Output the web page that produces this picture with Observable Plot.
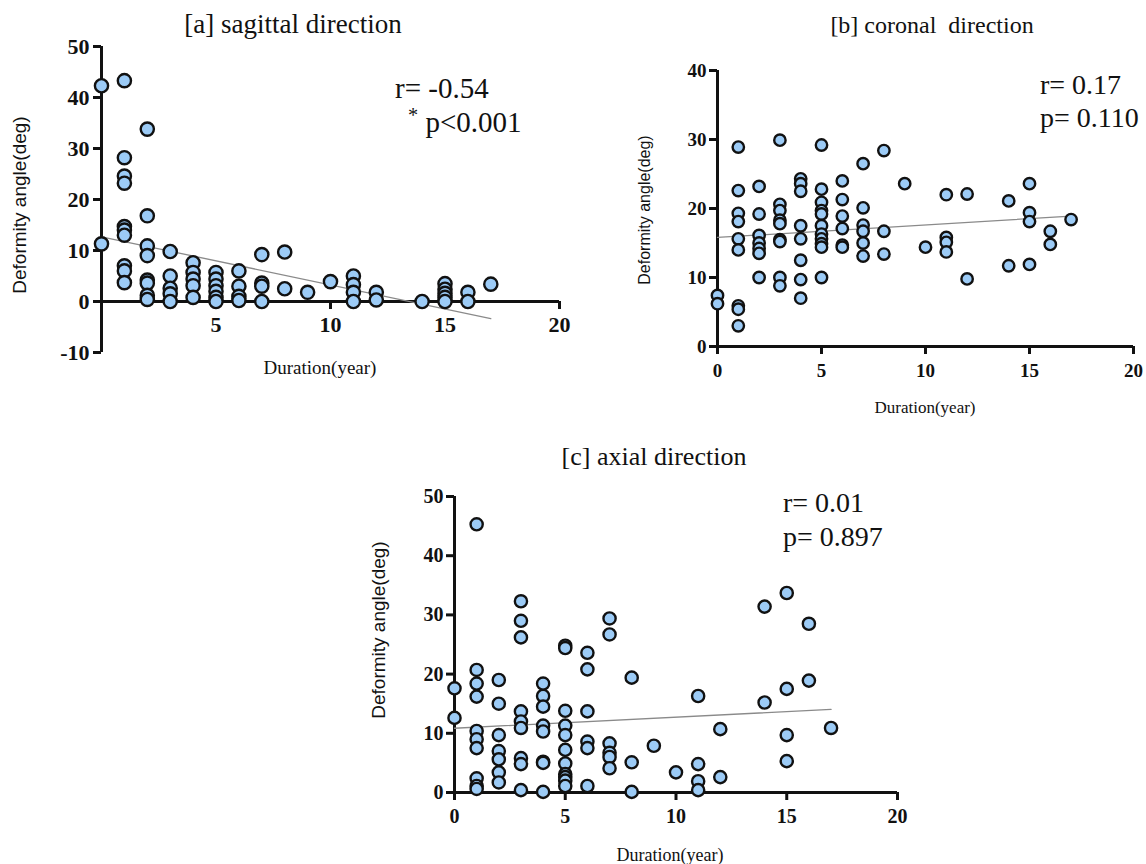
<!DOCTYPE html>
<html><head><meta charset="utf-8">
<script src="https://cdn.jsdelivr.net/npm/d3@7"></script>
<script src="https://cdn.jsdelivr.net/npm/@observablehq/plot@0.6"></script>
<style>
body{margin:0;background:#fff;}
#fig{position:relative;width:1146px;height:864px;overflow:hidden;background:#fff;}
#fig svg, #fig svg text{font-family:"Liberation Serif","Times New Roman",serif !important;}
.t{position:absolute;white-space:nowrap;font-family:"Liberation Serif","Times New Roman",serif;color:#111;line-height:1;}
.c{transform:translate(-50%,-50%);}
.l{transform:translate(0,-50%);}
.yl{position:absolute;white-space:nowrap;font-family:"Liberation Sans",Arial,sans-serif;color:#111;line-height:1;transform:translate(-50%,-50%) rotate(-90deg);}
</style></head><body><div id="fig"></div><script>
// ---- data: [a] sagittal ----
const sagittalYears = [0,0, 1,1,1,1,1,1,1,1,1,1, 2,2,2,2,2,2,2,2, 3,3,3,3,3, 4,4,4,4,4, 5,5,5,5,5,5, 6,6,6,6, 7,7,7,7, 8,8, 9, 10, 11,11,11,11, 12,12, 14, 15,15,15,15,15, 16,16, 17];
const sagittalAngles = [42.3,11.3, 43.3,28.2,24.6,23.2,14.7,14.0,13.0,7.0,6.0,3.7, 33.8,16.8,10.9,9.0,4.2,3.6,1.2,0.4, 9.8,5.0,2.6,1.5,0, 7.6,5.7,4.4,3.1,0.8, 5.7,4.4,3.1,2.0,0.8,0, 6.0,3.0,1.0,0.2, 9.2,3.6,3.0,0, 9.7,2.5, 1.8, 3.9, 5.0,3.3,1.8,0, 1.8,0.3, 0, 3.5,2.4,1.6,0.8,0, 1.8,0, 3.4];
const sagittalYTicks = [-10,0,10,20,30,40,50];
const sagittalXTicks = [5,10,15,20];

// ---- data: [b] coronal ----
const coronalYears = [0,0, 1,1,1,1,1,1,1,1,1, 2,2,2,2,2,2,2, 3,3,3,3,3,3,3,3,3, 4,4,4,4,4,4,4,4, 5,5,5,5,5,5,5,5,5,5,5, 6,6,6,6,6,6, 7,7,7,7,7,7, 8,8,8, 9, 10, 11,11,11,11, 12,12, 14,14, 15,15,15,15, 16,16, 17];
const coronalAngles = [7.4,6.2, 28.9,22.6,19.3,18.1,15.6,14.0,5.9,5.4,3.0, 23.2,19.2,16.1,15.0,14.2,13.5,10.0, 29.9,20.6,19.7,18.3,17.8,15.5,15.2,10.0,8.8, 24.3,23.6,22.5,17.5,15.6,12.5,9.7,7.0, 29.2,22.8,20.9,19.7,19.2,17.5,16.3,15.6,14.9,14.4,10.0, 24.0,21.3,18.9,17.1,14.7,14.4, 26.5,20.1,17.6,16.7,15.0,13.1, 28.4,16.7,13.4, 23.6, 14.4, 22.0,15.8,15.1,13.7, 22.1,9.8, 21.1,11.7, 23.6,19.4,18.1,11.9, 16.7,14.8, 18.4];
const coronalYTicks = [0,10,20,30,40];
const coronalXTicks = [0,5,10,15,20];

// ---- data: [c] axial ----
const axialYears = [0,0, 1,1,1,1,1,1,1,1,1,1, 2,2,2,2,2,2,2, 3,3,3,3,3,3,3,3,3, 4,4,4,4,4,4,4,4, 5,5,5,5,5,5,5,5,5,5,5, 6,6,6,6,6,6, 7,7,7,7,7,7, 8,8,8, 9, 10, 11,11,11,11, 12,12, 14,14, 15,15,15,15, 16,16, 17];
const axialAngles = [17.6,12.6, 45.3,20.7,18.4,16.2,10.4,9.0,7.5,2.4,1.1,0.6, 19.0,15.0,9.7,7.0,5.6,3.4,1.7, 32.3,29.0,26.2,13.7,12.0,10.9,5.8,4.8,0.4, 18.4,16.3,14.5,11.3,10.3,5.2,5.0,0.1, 24.8,24.4,13.8,11.3,9.7,7.2,4.9,3.1,2.6,2.0,1.1, 23.6,20.8,13.7,8.6,7.5,1.1, 29.4,26.7,8.3,6.7,6.0,4.1, 19.4,5.1,0.1, 7.9, 3.4, 16.3,4.8,1.9,0.4, 10.7,2.6, 31.4,15.2, 33.7,17.5,9.7,5.3, 28.5,18.9, 10.9];
const axialYTicks = [0,10,20,30,40,50];
const axialXTicks = [0,5,10,15,20];

const rows = (ys, as) => ys.map((year, i) => ({year, angle: as[i]}));
const sagittal = rows(sagittalYears, sagittalAngles);
const coronal = rows(coronalYears, coronalAngles);
const axial = rows(axialYears, axialAngles);

const fig = document.getElementById("fig");
const SERIF = '"Liberation Serif","Times New Roman",serif';
const INK = "#111";
const FILL = "#9ccbf6";
const LINE = "#8a8a8a";

function put(node, left, top) {
  node.style.position = "absolute";
  node.style.left = left + "px";
  node.style.top = top + "px";
  fig.appendChild(node);
}
function txt(html, x, y, size, cls) {
  const d = document.createElement("div");
  d.className = "t " + (cls || "c");
  d.style.left = x + "px"; d.style.top = y + "px"; d.style.fontSize = size + "px";
  d.innerHTML = html;
  fig.appendChild(d);
}
function ylab(text, x, y, size) {
  const d = document.createElement("div");
  d.className = "yl";
  d.style.left = x + "px"; d.style.top = y + "px"; d.style.fontSize = size + "px";
  d.textContent = text;
  fig.appendChild(d);
}

function dataMarks(data, r) {
  return [
    Plot.linearRegressionY(data, {x: "year", y: "angle", ci: 0, stroke: LINE, strokeWidth: 1.3}),
    Plot.dot(data, {x: "year", y: "angle", r, fill: FILL, stroke: INK, strokeWidth: 2.4})
  ];
}

// Panel a
const pa = Plot.plot({
  width: 580, height: 390,
  marginLeft: 101, marginRight: 21, marginTop: 46, marginBottom: 38,
  x: {domain: [0, 20], axis: null, label: null},
  y: {domain: [-10, 50], axis: null, label: null},
  style: {fontFamily: SERIF, background: "transparent", color: INK, overflow: "visible"},
  marks: [
    Plot.ruleY([0], {stroke: INK, strokeWidth: 3}),
    Plot.ruleX([0], {stroke: INK, strokeWidth: 3}),
    Plot.axisY(sagittalYTicks, {tickSize: 8, tickPadding: 4, strokeWidth: 3, fontSize: 22, fontWeight: "bold", fontFamily: SERIF, tickFormat: d => String(d), label: null}),
    Plot.ruleX(sagittalXTicks, {x: d => d, y1: 0, y2: 0, insetBottom: -8, stroke: INK, strokeWidth: 3}),
    Plot.text(sagittalXTicks, {x: d => d, y: 0, text: d => String(d), dy: 15, lineAnchor: "top", fontSize: 22, fontWeight: "bold", fontFamily: SERIF}),
    ...dataMarks(sagittal, 6.6)
  ]
});
put(pa, 0, 0);

// Panel b
const pb = Plot.plot({
  width: 546, height: 360,
  marginLeft: 117, marginRight: 13, marginTop: 30, marginBottom: 54,
  x: {domain: [0, 20], label: null},
  y: {domain: [0, 40], label: null},
  style: {fontFamily: SERIF, background: "transparent", color: INK, overflow: "visible"},
  marks: [
    Plot.ruleY([0], {stroke: INK, strokeWidth: 3}),
    Plot.ruleX([0], {stroke: INK, strokeWidth: 3}),
    Plot.axisY(coronalYTicks, {tickSize: 8, tickPadding: 3, strokeWidth: 3, fontSize: 19, fontWeight: "bold", fontFamily: SERIF, tickFormat: d => String(d), label: null}),
    Plot.axisX(coronalXTicks, {tickSize: 8, tickPadding: 9, strokeWidth: 3, fontSize: 19, fontWeight: "bold", fontFamily: SERIF, tickFormat: d => String(d), label: null}),
    ...dataMarks(coronal, 5.7)
  ]
});
put(pb, 600, 40);

// Panel c
const pc = Plot.plot({
  width: 560, height: 370,
  marginLeft: 94, marginRight: 23, marginTop: 26, marginBottom: 48,
  x: {domain: [0, 20], label: null},
  y: {domain: [0, 50], label: null},
  style: {fontFamily: SERIF, background: "transparent", color: INK, overflow: "visible"},
  marks: [
    Plot.ruleY([0], {stroke: INK, strokeWidth: 3}),
    Plot.ruleX([0], {stroke: INK, strokeWidth: 3}),
    Plot.axisY(axialYTicks, {tickSize: 8, tickPadding: 3, strokeWidth: 3, fontSize: 20, fontWeight: "bold", fontFamily: SERIF, tickFormat: d => String(d), label: null}),
    Plot.axisX(axialXTicks, {tickSize: 8, tickPadding: 8, strokeWidth: 3, fontSize: 20, fontWeight: "bold", fontFamily: SERIF, tickFormat: d => String(d), label: null}),
    ...dataMarks(axial, 6.1)
  ]
});
put(pc, 360, 470);

// Texts
txt("[a] sagittal direction", 293, 24, 27);
ylab("Deformity angle(deg)", 19, 205, 19);
txt("Duration(year)", 320, 367, 19);
txt("r= -0.54", 395, 88, 29, "l");
txt('<span style="font-size:0.7em;vertical-align:0.45em">*</span> p&lt;0.001', 408, 121, 29, "l");

txt("[b] coronal&nbsp; direction", 932, 25, 24);
ylab("Deformity angle(deg)", 645, 210, 16);
txt("Duration(year)", 925, 407, 17);
txt("r= 0.17", 1040, 85, 28, "l");
txt("p= 0.110", 1040, 118, 28, "l");

txt("[c] axial direction", 654, 457, 26);
ylab("Deformity angle(deg)", 378, 630, 19);
txt("Duration(year)", 670, 855, 18);
txt("r= 0.01", 783, 503, 28, "l");
txt("p= 0.897", 783, 537, 28, "l");
</script></body></html>
